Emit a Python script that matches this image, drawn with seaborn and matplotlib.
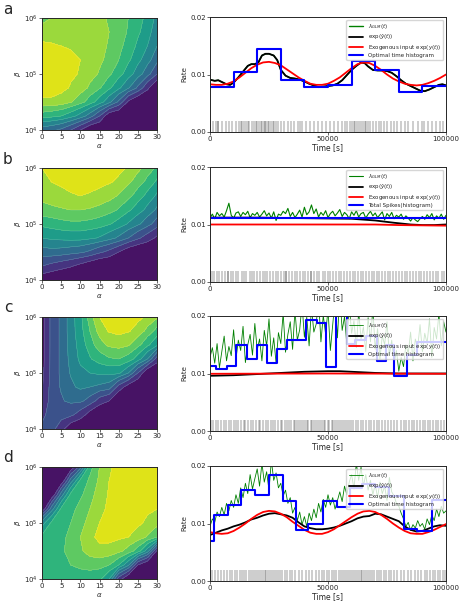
import numpy as np
import matplotlib
matplotlib.use('Agg')
import matplotlib.pyplot as plt
from matplotlib.ticker import FormatStrFormatter
import seaborn as sns

sns.set_style('ticks')
plt.rcParams['font.family'] = ['DejaVu Sans']
plt.rcParams['axes.linewidth'] = 0.7

# ===== contour grids (alpha, log10 beta) =====
alpha_grid = [0, 2.5, 5, 7.5, 10, 12.5, 15, 17.5, 20, 22.5, 25, 27.5, 30]
logbeta_grid = [4.0, 4.25, 4.5, 4.75, 5.0, 5.25, 5.5, 5.75, 6.0]

# rows written from top (beta=1e6) to bottom (beta=1e4)
z_a = [[0.76, 0.80, 0.84, 0.85, 0.85, 0.84, 0.82, 0.79, 0.75, 0.70, 0.64, 0.57, 0.47],
       [0.84, 0.85, 0.86, 0.86, 0.86, 0.85, 0.83, 0.80, 0.75, 0.69, 0.62, 0.54, 0.44],
       [0.92, 0.91, 0.90, 0.89, 0.88, 0.86, 0.83, 0.79, 0.73, 0.66, 0.58, 0.50, 0.40],
       [0.96, 0.95, 0.94, 0.92, 0.90, 0.86, 0.82, 0.77, 0.70, 0.62, 0.53, 0.44, 0.33],
       [0.98, 0.97, 0.95, 0.92, 0.89, 0.84, 0.79, 0.72, 0.64, 0.55, 0.45, 0.34, 0.20],
       [0.96, 0.95, 0.93, 0.89, 0.85, 0.78, 0.71, 0.62, 0.52, 0.41, 0.28, 0.12, 0.00],
       [0.88, 0.88, 0.86, 0.81, 0.74, 0.65, 0.55, 0.43, 0.28, 0.08, 0.00, 0.00, 0.00],
       [0.65, 0.63, 0.60, 0.54, 0.46, 0.35, 0.20, 0.02, 0.00, 0.00, 0.00, 0.00, 0.00],
       [0.35, 0.32, 0.28, 0.20, 0.10, 0.00, 0.00, 0.00, 0.00, 0.00, 0.00, 0.00, 0.00]]
z_b = [[0.90, 0.93, 0.95, 0.96, 0.97, 0.97, 0.96, 0.95, 0.93, 0.89, 0.83, 0.76, 0.68],
       [0.86, 0.90, 0.92, 0.94, 0.95, 0.94, 0.93, 0.91, 0.88, 0.82, 0.75, 0.67, 0.58],
       [0.83, 0.85, 0.87, 0.89, 0.90, 0.89, 0.87, 0.84, 0.79, 0.73, 0.65, 0.57, 0.48],
       [0.77, 0.78, 0.79, 0.80, 0.80, 0.79, 0.77, 0.74, 0.69, 0.62, 0.55, 0.47, 0.38],
       [0.63, 0.65, 0.67, 0.68, 0.68, 0.67, 0.65, 0.61, 0.56, 0.49, 0.42, 0.34, 0.25],
       [0.50, 0.52, 0.53, 0.54, 0.54, 0.52, 0.49, 0.44, 0.38, 0.30, 0.22, 0.15, 0.08],
       [0.36, 0.37, 0.36, 0.34, 0.32, 0.28, 0.22, 0.17, 0.10, 0.03, 0.00, 0.00, 0.00],
       [0.20, 0.17, 0.14, 0.11, 0.07, 0.03, 0.00, 0.00, 0.00, 0.00, 0.00, 0.00, 0.00],
       [0.04, 0.02, 0.00, 0.00, 0.00, 0.00, 0.00, 0.00, 0.00, 0.00, 0.00, 0.00, 0.00]]
z_c = [[0.05, 0.23, 0.32, 0.45, 0.57, 0.75, 0.90, 0.95, 0.97, 0.96, 0.93, 0.88, 0.82],
       [0.05, 0.23, 0.32, 0.45, 0.56, 0.70, 0.84, 0.91, 0.93, 0.91, 0.86, 0.77, 0.66],
       [0.05, 0.23, 0.32, 0.44, 0.54, 0.65, 0.76, 0.82, 0.84, 0.81, 0.73, 0.62, 0.52],
       [0.06, 0.23, 0.32, 0.43, 0.52, 0.59, 0.65, 0.69, 0.70, 0.66, 0.55, 0.40, 0.15],
       [0.07, 0.23, 0.32, 0.41, 0.48, 0.50, 0.52, 0.53, 0.52, 0.40, 0.20, 0.00, 0.00],
       [0.09, 0.24, 0.31, 0.38, 0.42, 0.40, 0.38, 0.35, 0.16, 0.05, 0.00, 0.00, 0.00],
       [0.12, 0.24, 0.29, 0.32, 0.32, 0.26, 0.15, 0.10, 0.00, 0.00, 0.00, 0.00, 0.00],
       [0.17, 0.25, 0.25, 0.22, 0.15, 0.05, 0.00, 0.00, 0.00, 0.00, 0.00, 0.00, 0.00],
       [0.22, 0.24, 0.13, 0.03, 0.00, 0.00, 0.00, 0.00, 0.00, 0.00, 0.00, 0.00, 0.00]]
z_d = [[0.00, 0.00, 0.00, 0.00, 0.25, 0.66, 0.80, 0.89, 0.92, 0.93, 0.93, 0.93, 0.92],
       [0.00, 0.00, 0.00, 0.35, 0.63, 0.72, 0.82, 0.90, 0.93, 0.95, 0.95, 0.94, 0.93],
       [0.00, 0.00, 0.35, 0.63, 0.68, 0.76, 0.85, 0.91, 0.95, 0.97, 0.96, 0.94, 0.92],
       [0.00, 0.35, 0.62, 0.67, 0.73, 0.80, 0.87, 0.92, 0.96, 0.97, 0.95, 0.92, 0.90],
       [0.45, 0.62, 0.66, 0.70, 0.76, 0.84, 0.90, 0.93, 0.94, 0.94, 0.92, 0.88, 0.84],
       [0.62, 0.65, 0.68, 0.72, 0.80, 0.88, 0.92, 0.93, 0.92, 0.90, 0.86, 0.79, 0.70],
       [0.64, 0.66, 0.69, 0.72, 0.78, 0.85, 0.88, 0.87, 0.83, 0.76, 0.65, 0.45, 0.08],
       [0.64, 0.66, 0.68, 0.70, 0.72, 0.74, 0.74, 0.70, 0.60, 0.42, 0.10, 0.00, 0.00],
       [0.63, 0.64, 0.65, 0.66, 0.66, 0.65, 0.62, 0.50, 0.15, 0.00, 0.00, 0.00, 0.00]]

# ===== rate data (time in ks, rate in 1e-4) =====
t_red_ad = [0, 2.5, 5, 7.5, 10, 12.5, 15, 17.5, 20, 22.5, 25, 27.5, 30, 32.5, 35, 37.5, 40,
            42.5, 45, 47.5, 50, 52.5, 55, 57.5, 60, 62.5, 65, 67.5, 70, 72.5, 75, 77.5, 80,
            82.5, 85, 87.5, 90, 92.5, 95, 97.5, 100]
red_a = [83, 82, 82, 84, 88, 95, 103, 111, 117, 121, 122, 120, 116, 109, 102, 95, 89,
         84, 82, 82, 84, 89, 95, 103, 111, 118, 121, 120, 115, 108, 100, 93, 88,
         84, 82, 81, 82, 85, 89, 94, 100]
red_d = [85, 83, 82, 83, 87, 93, 100, 108, 115, 120, 122, 121, 117, 111, 103, 96, 89,
         84, 82, 82, 85, 90, 97, 104, 111, 117, 121, 122, 120, 115, 108, 100, 93,
         87, 83, 82, 82, 85, 89, 94, 99]

t_black_a = [0, 2, 3.5, 5, 7, 8.5, 10, 12, 14, 16, 17.5, 19, 20.5, 22, 23.5, 25, 27, 28.5,
             30, 32, 34, 36, 38, 40, 42, 44, 46, 48, 50, 52, 54, 56, 58, 60, 62, 64, 65.5,
             67, 69, 71, 73, 75, 77, 79, 81, 83, 85, 87, 89, 91, 93, 95, 97, 98.5, 100]
black_a = [91, 89, 90, 87, 83, 82, 86, 95, 105, 115, 118, 118, 121, 133, 136, 136, 133, 125,
           108, 98, 94, 93, 91, 88, 84, 81, 78, 79, 80, 81, 84, 90, 99, 108, 115, 121, 120,
           114, 108, 107, 107, 106, 103, 97, 90, 84, 80, 76, 72, 71, 74, 78, 82, 83, 81]

edges_a = [0, 10, 20, 30, 40, 50, 60, 70, 80, 90, 100]
hist_a = [78, 104, 145, 91, 79, 82, 123, 107, 70, 80]

t_black_b = [0, 20, 40, 60, 70, 78, 85, 90, 95, 100]
black_b = [112, 112, 111, 110, 107, 103, 100, 99, 99, 100]
t_red_b = [0, 50, 70, 80, 90, 100]
red_b = [100, 100, 100, 99, 98.5, 98]
edges_b = [0, 100]
hist_b = [112]

green_b = [112, 118, 110, 121, 115, 119, 113, 124, 137, 116,
           111, 120, 122, 114, 121, 117, 123, 112, 119, 116,
           121, 113, 118, 124, 115, 120, 111, 122, 107, 118,
           116, 123, 119, 128, 114, 121, 112, 118, 125, 113,
           130, 117, 122, 134, 119, 127, 113, 121, 116, 124,
           112, 119, 123, 115, 120, 126, 114, 121, 117, 110,
           122, 116, 124, 113, 119, 121, 111, 118, 123, 115,
           120, 112, 117, 122, 108, 119, 114, 121, 110, 116,
           113, 118, 109, 115, 111, 106, 112, 108, 105, 110,
           114, 109, 117, 112, 119, 108, 115, 111, 118, 109, 116]

t_black_c = [0, 10, 20, 30, 40, 50, 55, 60, 70, 80, 90, 100]
black_c = [96, 97, 99, 101, 103, 104, 104, 103, 101, 100, 100, 100]
t_red_c = [0, 50, 100]
red_c = [99.5, 100, 99.5]
edges_c = [0, 2.5, 7, 11, 15.5, 19.8, 24, 28.3, 32.5, 40.7, 45.3, 49.2, 53.5, 58, 61.5,
           66, 70.7, 74.7, 77.8, 83.5, 87.7, 100]
hist_c = [113, 108, 113, 149, 125, 149, 118, 142, 158, 193, 187, 112, 260, 152, 158,
          165, 121, 150, 95, 133, 154]

green_c = [128, 145, 118, 152, 110, 138, 165, 122, 147, 131,
           176, 125, 158, 140, 182, 119, 150, 168, 132, 187,
           141, 160, 122, 175, 148, 195, 130, 162, 118, 171,
           152, 205, 137, 168, 190, 142, 210, 158, 176, 221,
           163, 198, 148, 215, 172, 186, 230, 155, 201, 168,
           212, 140, 185, 228, 162, 240, 175, 199, 150, 220,
           170, 192, 145, 208, 160, 181, 138, 197, 155, 214,
           142, 178, 125, 166, 150, 190, 132, 158, 118, 140,
           104, 128, 112, 150, 135, 172, 122, 160, 145, 185,
           138, 170, 152, 195, 128, 180, 160, 205, 148, 190, 172]

t_black_d = t_red_ad
black_d = [80, 84, 88, 91, 95, 98, 102, 107, 110, 114, 117, 118, 116, 114, 110, 102, 95,
           92, 90, 90, 91, 93, 96, 100, 104, 109, 112, 113, 117, 116, 112, 108, 104,
           95, 89, 86, 87, 91, 95, 97, 96]
edges_d = [0, 1.8, 7.5, 13.2, 19, 24.8, 30.8, 36.5, 41.7, 47.8, 53.7, 59.4, 64.4, 70,
           76, 82, 87.7, 94, 100]
hist_d = [70, 114, 132, 159, 149, 184, 139, 89, 99, 140, 128, 162, 168, 163, 147, 90,
          87, 141]

green_d = [95, 108, 102, 120, 112, 128, 115, 135, 122, 140,
           128, 150, 135, 162, 145, 170, 152, 185, 160, 178,
           195, 165, 205, 172, 190, 158, 210, 175, 188, 162,
           170, 148, 158, 135, 145, 118, 128, 105, 120, 98,
           112, 95, 118, 105, 125, 110, 135, 120, 142, 128,
           150, 132, 145, 125, 140, 155, 138, 165, 150, 172,
           185, 160, 205, 175, 198, 165, 185, 158, 175, 150,
           168, 145, 172, 152, 165, 140, 180, 155, 148, 135,
           130, 118, 108, 95, 102, 88, 98, 92, 105, 95,
           100, 90, 108, 98, 115, 105, 125, 112, 130, 118, 122]
t_green = list(range(0, 101))

# spike times (ks)
spikes_a = [1.2, 2.5, 3.4, 3.6, 5.1, 6.8, 8.2, 9.5, 11.0, 12.3, 13.1, 13.6, 14.4, 15.2, 15.9,
            16.7, 17.8, 18.5, 19.3, 20.1, 20.8, 21.4, 22.0, 22.7, 23.3, 23.9, 24.6, 25.2,
            25.9, 26.5, 27.3, 28.1, 29.0, 30.2, 31.5, 33.0, 34.4, 35.8, 37.2, 38.0, 39.1,
            40.5, 42.3, 44.0, 45.6, 47.4, 49.2, 51.0, 52.7, 54.3, 55.8, 57.0, 58.2, 59.3,
            60.1, 60.9, 61.6, 62.4, 63.2, 64.0, 64.8, 65.5, 66.3, 67.1, 68.0, 69.0, 70.2,
            71.4, 72.6, 73.9, 75.1, 76.5, 77.8, 79.2, 80.8, 82.5, 84.1, 86.0, 88.3, 89.9,
            90.6, 92.4, 94.1, 95.7, 97.3, 98.8]
spikes_b = [0.8, 1.9, 3.1, 4.0, 5.2, 6.3, 7.5, 7.6, 8.7, 9.9, 11.2, 12.0, 13.4, 14.5, 15.3,
            16.8, 17.9, 18.8, 20.1, 21.0, 22.4, 23.5, 24.3, 25.6, 26.9, 27.8, 29.0, 30.2,
            31.4, 32.0, 32.1, 33.5, 34.6, 35.9, 36.8, 38.0, 39.3, 40.4, 41.5, 42.9, 43.0,
            44.2, 45.5, 46.3, 47.7, 48.9, 49.8, 51.0, 52.3, 53.4, 54.6, 55.5, 56.9, 58.0,
            59.2, 60.4, 61.3, 62.7, 63.8, 64.9, 66.1, 67.2, 68.5, 69.4, 70.7, 71.8, 73.0,
            74.1, 75.3, 76.4, 77.6, 78.9, 80.0, 81.2, 82.5, 83.6, 84.8, 86.1, 87.3, 88.5,
            89.6, 90.8, 92.0, 93.3, 94.5, 95.6, 96.8, 98.1, 99.3]
spikes_c = [0.5, 1.4, 2.6, 3.3, 4.5, 5.8, 6.6, 7.9, 9.1, 10.2, 11.0, 11.9, 13.1, 14.2, 15.0,
            16.3, 17.5, 18.2, 19.4, 20.6, 21.3, 22.5, 23.8, 24.4, 25.7, 26.9, 27.6, 28.8,
            29.9, 30.7, 31.8, 32.6, 33.5, 34.3, 35.4, 36.1, 36.9, 37.8, 38.5, 39.4, 40.2,
            40.9, 41.7, 42.6, 43.3, 44.1, 44.9, 45.8, 46.5, 47.3, 48.2, 48.9, 49.8, 50.6,
            51.5, 52.3, 53.0, 53.8, 54.7, 55.4, 56.2, 57.1, 57.9, 58.8, 59.7, 60.8, 61.9,
            62.7, 63.8, 64.9, 66.0, 67.2, 68.3, 69.5, 70.6, 71.8, 72.9, 74.1, 75.3, 76.6,
            77.9, 79.3, 80.8, 82.0, 83.2, 84.3, 85.5, 86.6, 87.8, 88.9, 90.1, 91.2, 92.3,
            93.4, 94.6, 95.7, 96.8, 97.9, 99.0]
spikes_d = [0.9, 2.3, 3.6, 4.8, 6.0, 7.1, 8.3, 9.4, 10.5, 11.5, 12.6, 13.5, 14.5, 15.4, 16.4,
            17.3, 18.2, 19.0, 19.9, 20.7, 21.5, 22.3, 23.1, 23.9, 24.7, 25.5, 26.3, 27.1,
            27.9, 28.8, 29.7, 30.6, 31.6, 32.6, 33.7, 34.9, 36.2, 37.6, 39.0, 40.5, 42.0,
            43.4, 44.8, 46.1, 47.3, 48.4, 49.5, 50.6, 51.6, 52.6, 53.6, 54.6, 55.5, 56.4,
            57.3, 58.2, 59.0, 59.8, 60.6, 61.4, 62.2, 63.0, 63.8, 64.6, 65.4, 66.2, 67.0,
            67.9, 68.8, 69.7, 70.6, 71.6, 72.6, 73.6, 74.7, 75.8, 76.9, 78.1, 79.4, 80.8,
            82.3, 83.8, 85.3, 86.8, 88.2, 89.6, 90.9, 92.1, 93.3, 94.4, 95.5, 96.6, 97.6,
            98.6, 99.6]

lab_green = r'$\lambda_{GLM}(t)$'
lab_black = r'exp($\hat{y}(t)$)'
lab_red = r'Exogenous input exp($y(t)$)'

W, H = 466, 601
fig = plt.figure(figsize=(W / 100, H / 100), dpi=100)


def box(left, top, w, h):
    return [left / W, 1 - (top + h) / H, w / W, h / H]


def ks(v):
    return np.array(v, dtype=float) * 1000


def r4(v):
    return np.array(v, dtype=float) * 1e-4


def draw_contour(ax, z):
    zz = np.array(z)[::-1]
    beta = 10 ** np.array(logbeta_grid)
    levels = np.linspace(0, 1, 11)
    ax.contourf(alpha_grid, beta, zz, levels=levels, cmap='viridis')
    ax.contour(alpha_grid, beta, zz, levels=levels[1:-1], colors='white',
               linewidths=0.3, alpha=0.3)
    ax.set_yscale('log')
    ax.set_xlim(0, 30)
    ax.set_ylim(1e4, 1e6)
    ax.set_xticks(range(0, 31, 5))
    ax.set_yticks([1e4, 1e5, 1e6])
    ax.minorticks_off()
    ax.set_xlabel(r'$\alpha$', fontsize=5, labelpad=1)
    ax.set_ylabel(r'$\beta$', fontsize=5, labelpad=1)
    ax.tick_params(labelsize=5, length=2, width=0.5, pad=1)


def draw_rate(ax, tg, g, gw, tb, b, tr, r, edges, hist, hist_label, spikes):
    sns.lineplot(x=ks(tg), y=r4(g), ax=ax, color='green', lw=gw, label=lab_green,
                 estimator=None)
    sns.lineplot(x=ks(tb), y=r4(b), ax=ax, color='black', lw=1.3, label=lab_black,
                 estimator=None)
    sns.lineplot(x=ks(tr), y=r4(r), ax=ax, color='red', lw=1.3, label=lab_red,
                 estimator=None)
    sns.lineplot(x=ks(edges), y=r4(hist + hist[-1:]), ax=ax, color='blue', lw=1.5,
                 label=hist_label, drawstyle='steps-post', estimator=None)
    ax.vlines(ks(spikes), 0, 0.002, colors='k', alpha=0.25, lw=1.1)
    ax.set_xlim(0, 100000)
    ax.set_ylim(0, 0.02)
    ax.set_xticks([0, 50000, 100000])
    ax.set_yticks([0, 0.01, 0.02])
    ax.yaxis.set_major_formatter(FormatStrFormatter('%.2f'))
    ax.set_ylabel('Rate', fontsize=5, labelpad=2)
    ax.set_xlabel('Time [s]', fontsize=5.5, labelpad=1)
    ax.tick_params(labelsize=5, length=2, width=0.5, pad=1)
    ax.legend(loc='upper right', fontsize=4, handlelength=2.6, borderpad=0.4,
              labelspacing=0.2, handletextpad=0.8, framealpha=0.8)


tops = [17, 167, 316, 466]
letters = ['a', 'b', 'c', 'd']
zs = [z_a, z_b, z_c, z_d]

for top, letter, z in zip(tops, letters, zs):
    axc = fig.add_axes(box(42, top + 1, 115, 112))
    draw_contour(axc, z)
    fig.text(8 / W, 1 - (top - 8) / H, letter, fontsize=11, va='center', ha='center')

ax_a = fig.add_axes(box(210, tops[0], 236, 115))
draw_rate(ax_a, t_black_a, black_a, 1.0, t_black_a, black_a, t_red_ad, red_a,
          edges_a, hist_a, 'Optimal time histogram', spikes_a)

ax_b = fig.add_axes(box(210, tops[1], 236, 115))
draw_rate(ax_b, t_green, green_b, 0.8, t_black_b, black_b, t_red_b, red_b,
          edges_b, hist_b, 'Total Spikes(histogram)', spikes_b)

ax_c = fig.add_axes(box(210, tops[2], 236, 115))
draw_rate(ax_c, t_green, green_c, 0.6, t_black_c, black_c, t_red_c, red_c,
          edges_c, hist_c, 'Optimal time histogram', spikes_c)

ax_d = fig.add_axes(box(210, tops[3], 236, 115))
draw_rate(ax_d, t_green, green_d, 0.6, t_black_d, black_d, t_red_ad, red_d,
          edges_d, hist_d, 'Optimal time histogram', spikes_d)

fig.savefig('out.png', dpi=100)
